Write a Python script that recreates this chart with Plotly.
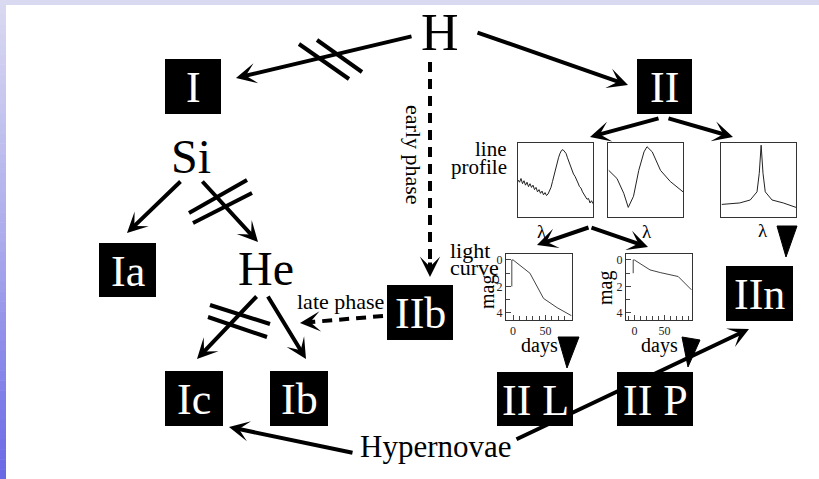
import plotly.graph_objects as go

W, H = 819, 479
SERIF = "Liberation Serif, Times New Roman, serif"

# ---------------- diagram content ----------------
box_labels = ["I", "II", "Ia", "Ic", "Ib", "IIb", "II L", "II P", "IIn"]
box_x0 = [165, 637, 99, 165, 270, 387, 497, 617, 726]
box_x1 = [221, 692, 156, 223, 328, 453, 573, 693, 793]
box_y0 = [59, 59, 243, 371, 371, 285, 372, 372, 266]
box_y1 = [114, 114, 297, 426, 426, 340, 426, 426, 321]

elem_labels = ["H", "Si", "He", "Hypernovae"]
elem_x = [440, 191, 266, 436]
elem_y = [32, 156, 268, 446]
elem_size = [52, 48, 48, 31]

# solid arrows (tail -> head)
arrow_x0 = [413, 476, 182, 201, 258, 267, 354, 515, 660, 667, 590, 590]
arrow_y0 = [36, 32, 180, 180, 295, 295, 453, 440, 118, 118, 227, 227]
arrow_x1 = [236, 628, 127, 258, 197, 306, 229, 749, 590, 733, 537, 648]
arrow_y1 = [78, 85, 233, 242, 359, 359, 427, 329, 137, 137, 245, 247]

# dashed arrows (early phase / late phase)
dash_x0 = [430, 383]
dash_y0 = [62, 316]
dash_x1 = [430, 300]
dash_y1 = [277, 323]

# "forbidden" double slashes
slash_x0 = [299, 317, 189, 193, 210, 208]
slash_y0 = [44, 40, 213, 223, 305, 317]
slash_x1 = [349, 362, 247, 252, 270, 267]
slash_y1 = [79, 72, 180, 193, 324, 337]

# filled pointer triangles
tri_x = [[558, 579, 567], [682, 700, 688], [777, 797, 786]]
tri_y = [[337, 337, 368], [337, 340, 367], [226, 226, 257]]

# small annotations
note_text = ["line", "profile", "light", "curve", "early phase", "late phase",
             "λ", "λ", "λ", "days", "days", "mag", "mag"]
note_x = [509, 509, 448, 448, 414, 340, 542, 647, 763, 539, 659, 487, 605]
note_y = [149, 167, 250, 267, 155, 301, 231, 231, 230, 345, 345, 292, 288]
note_size = [21, 21, 22, 22, 22, 22, 19, 19, 19, 20, 20, 20, 20]
note_angle = [0, 0, 0, 0, 90, 0, 0, 0, 0, 0, 0, -90, -90]
note_anchor = ["right", "right", "left", "left", "center", "center",
               "center", "center", "center", "center", "center", "center", "center"]

# ---------------- inset data ----------------
# line profiles (wavelength, normalised flux)
lp1_lam = [0.00, 0.02, 0.04, 0.06, 0.08, 0.10, 0.12, 0.14, 0.16, 0.18, 0.20, 0.22, 0.24,
           0.26, 0.28, 0.30, 0.32, 0.34, 0.36, 0.38, 0.40, 0.42, 0.44, 0.46, 0.48, 0.50,
           0.52, 0.54, 0.56, 0.58, 0.60, 0.62, 0.64, 0.66, 0.68, 0.70, 0.72, 0.74, 0.76,
           0.78, 0.80, 0.82, 0.84, 0.86, 0.88, 0.90, 0.92, 0.94, 0.96, 0.98, 1.00]
lp1_flux = [0.50, 0.47, 0.52, 0.45, 0.49, 0.43, 0.47, 0.41, 0.45, 0.40, 0.43, 0.37, 0.40,
            0.34, 0.37, 0.32, 0.35, 0.30, 0.33, 0.29, 0.31, 0.35, 0.40, 0.48, 0.57, 0.66,
            0.73, 0.80, 0.86, 0.90, 0.91, 0.88, 0.86, 0.80, 0.74, 0.70, 0.65, 0.58, 0.55,
            0.49, 0.46, 0.41, 0.39, 0.34, 0.31, 0.28, 0.24, 0.25, 0.19, 0.22, 0.18]
lp2_lam = [0.01, 0.12, 0.21, 0.27, 0.34, 0.41, 0.48, 0.52, 0.59, 0.70, 0.83, 1.00]
lp2_flux = [0.63, 0.52, 0.32, 0.13, 0.28, 0.63, 0.88, 0.95, 0.88, 0.63, 0.48, 0.34]
lp3_lam = [0.01, 0.25, 0.39, 0.48, 0.51, 0.535, 0.56, 0.59, 0.68, 0.83, 1.00]
lp3_flux = [0.17, 0.19, 0.23, 0.34, 0.59, 0.97, 0.59, 0.34, 0.23, 0.19, 0.13]

# light curves (days, magnitude)
lc1_days = [-2, -2, 0, 26, 47, 68, 90]
lc1_mag = [2.0, 0.0, 0.0, 1.0, 2.9, 3.6, 4.2]
lc2_days = [-2, -2, 0, 9, 26, 43, 73, 95]
lc2_mag = [1.0, 0.0, 0.0, 0.25, 0.75, 0.95, 1.25, 2.25]
lc_xticks = [0, 50]
lc_yticks = [0, 2, 4]

# inset panel placement (pixels)
lp_x0 = [518, 608, 721]
lp_x1 = [593, 683, 796]
lp_y0, lp_y1 = 143, 217
lc_x0 = [506, 626]
lc_x1 = [572, 692]
lc_y0, lc_y1 = 254, 320
lc_xrange = [[-11, 91], [-14, 96]]
lc_yrange = [4.53, -0.45]

fig = go.Figure()

# invisible trace to hold the main axes
fig.add_trace(go.Scatter(x=[0, W], y=[0, H], mode="markers",
                         marker=dict(opacity=0), hoverinfo="skip", showlegend=False))

layout = dict(
    width=W, height=H, margin=dict(l=0, r=0, t=0, b=0),
    paper_bgcolor="white", plot_bgcolor="rgba(0,0,0,0)", showlegend=False,
    xaxis=dict(range=[0, W], domain=[0, 1], visible=False, fixedrange=True),
    yaxis=dict(range=[H, 0], domain=[0, 1], visible=False, fixedrange=True),
)

frame_style = dict(showline=True, mirror=True, linecolor="#333", linewidth=1,
                   showgrid=False, zeroline=False, fixedrange=True)

n = 2
for i, (lam, flux) in enumerate([(lp1_lam, lp1_flux), (lp2_lam, lp2_flux), (lp3_lam, lp3_flux)]):
    fig.add_trace(go.Scatter(x=lam, y=flux, mode="lines", line=dict(color="#222", width=1),
                             xaxis=f"x{n}", yaxis=f"y{n}", hoverinfo="skip"))
    layout[f"xaxis{n}"] = dict(domain=[lp_x0[i] / W, lp_x1[i] / W], range=[0, 1], anchor=f"y{n}",
                               showticklabels=False, ticks="", **frame_style)
    layout[f"yaxis{n}"] = dict(domain=[1 - lp_y1 / H, 1 - lp_y0 / H], range=[0, 1], anchor=f"x{n}",
                               showticklabels=False, ticks="", **frame_style)
    n += 1

for i, (d, m) in enumerate([(lc1_days, lc1_mag), (lc2_days, lc2_mag)]):
    fig.add_trace(go.Scatter(x=d, y=m, mode="lines", line=dict(color="#444", width=1),
                             xaxis=f"x{n}", yaxis=f"y{n}", hoverinfo="skip"))
    layout[f"xaxis{n}"] = dict(domain=[lc_x0[i] / W, lc_x1[i] / W], range=lc_xrange[i], anchor=f"y{n}",
                               tickvals=lc_xticks, ticks="inside", ticklen=5, tickcolor="#444",
                               tickfont=dict(family=SERIF, size=12, color="#222"),
                               minor=dict(dtick=10, tick0=0, ticks="inside", ticklen=4, tickcolor="#444"),
                               **frame_style)
    layout[f"yaxis{n}"] = dict(domain=[1 - lc_y1 / H, 1 - lc_y0 / H], range=lc_yrange, anchor=f"x{n}",
                               tickvals=lc_yticks, ticks="inside", ticklen=5, tickcolor="#444",
                               tickfont=dict(family=SERIF, size=12, color="#222"),
                               minor=dict(dtick=1, tick0=0, ticks="inside", ticklen=4, tickcolor="#444"),
                               **frame_style)
    n += 1

shapes = []
# frame: top strip and left gradient strip
shapes.append(dict(type="rect", xref="x", yref="y", x0=0, x1=W, y0=0, y1=5,
                   fillcolor="#d9d9f1", line=dict(width=0), layer="below"))
stops = [(5, (217, 217, 241)), (240, (172, 171, 236)), (479, (106, 103, 230))]
N = 48
for k in range(N):
    ya = 5 + (479 - 5) * k / N
    yb = 5 + (479 - 5) * (k + 1) / N
    ym = (ya + yb) / 2
    if ym <= stops[1][0]:
        t = (ym - stops[0][0]) / (stops[1][0] - stops[0][0])
        c0, c1 = stops[0][1], stops[1][1]
    else:
        t = (ym - stops[1][0]) / (stops[2][0] - stops[1][0])
        c0, c1 = stops[1][1], stops[2][1]
    col = tuple(round(c0[j] + (c1[j] - c0[j]) * t) for j in range(3))
    shapes.append(dict(type="rect", xref="x", yref="y", x0=0, x1=6, y0=ya, y1=yb + 0.5,
                       fillcolor=f"rgb{col}", line=dict(width=0), layer="below"))

for i in range(len(box_labels)):
    shapes.append(dict(type="rect", xref="x", yref="y", x0=box_x0[i], x1=box_x1[i],
                       y0=box_y0[i], y1=box_y1[i], fillcolor="black", line=dict(width=0)))

for i in range(len(slash_x0)):
    shapes.append(dict(type="line", xref="x", yref="y", x0=slash_x0[i], y0=slash_y0[i],
                       x1=slash_x1[i], y1=slash_y1[i], line=dict(color="black", width=4)))

for i in range(len(dash_x0)):
    dx, dy = dash_x1[i] - dash_x0[i], dash_y1[i] - dash_y0[i]
    L = (dx * dx + dy * dy) ** 0.5
    shapes.append(dict(type="line", xref="x", yref="y", x0=dash_x0[i], y0=dash_y0[i],
                       x1=dash_x1[i] - dx / L * 14, y1=dash_y1[i] - dy / L * 14,
                       line=dict(color="black", width=4, dash="10px,7px")))

for tx, ty in zip(tri_x, tri_y):
    path = f"M{tx[0]},{ty[0]} L{tx[1]},{ty[1]} L{tx[2]},{ty[2]} Z"
    shapes.append(dict(type="path", xref="x", yref="y", path=path,
                       fillcolor="black", line=dict(color="black", width=1)))

annotations = []
for i in range(len(arrow_x0)):
    annotations.append(dict(x=arrow_x1[i], y=arrow_y1[i], ax=arrow_x0[i], ay=arrow_y0[i],
                            xref="x", yref="y", axref="x", ayref="y", text="",
                            showarrow=True, arrowhead=3, arrowsize=0.85, arrowwidth=4,
                            arrowcolor="black", standoff=0, startstandoff=0))
for i in range(len(dash_x0)):
    dx, dy = dash_x1[i] - dash_x0[i], dash_y1[i] - dash_y0[i]
    L = (dx * dx + dy * dy) ** 0.5
    annotations.append(dict(x=dash_x1[i], y=dash_y1[i],
                            ax=dash_x1[i] - dx / L * 16, ay=dash_y1[i] - dy / L * 16,
                            xref="x", yref="y", axref="x", ayref="y", text="",
                            showarrow=True, arrowhead=3, arrowsize=0.85, arrowwidth=4,
                            arrowcolor="black", standoff=0, startstandoff=0))

for i in range(len(box_labels)):
    annotations.append(dict(x=(box_x0[i] + box_x1[i]) / 2, y=(box_y0[i] + box_y1[i]) / 2 + 1,
                            xref="x", yref="y", text=box_labels[i], showarrow=False,
                            font=dict(family=SERIF, size=44, color="white"),
                            xanchor="center", yanchor="middle"))

for i in range(len(elem_labels)):
    annotations.append(dict(x=elem_x[i], y=elem_y[i], xref="x", yref="y", text=elem_labels[i],
                            showarrow=False, font=dict(family=SERIF, size=elem_size[i], color="black"),
                            xanchor="center", yanchor="middle"))

for i in range(len(note_text)):
    annotations.append(dict(x=note_x[i], y=note_y[i], xref="x", yref="y", text=note_text[i],
                            showarrow=False, textangle=note_angle[i],
                            font=dict(family=SERIF, size=note_size[i], color="black"),
                            xanchor=note_anchor[i], yanchor="middle"))

layout["shapes"] = shapes
layout["annotations"] = annotations
fig.update_layout(**layout)
fig.write_html("out.html", config={"displayModeBar": False},
               post_script="document.body.style.margin='0px';document.body.style.overflow='hidden';")
